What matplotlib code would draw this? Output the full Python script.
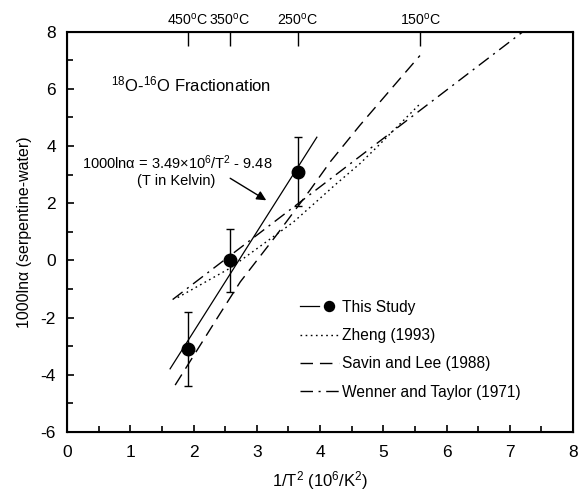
import matplotlib
matplotlib.use("Agg")
import matplotlib.pyplot as plt
from matplotlib.legend_handler import HandlerTuple
import numpy as np

plt.rcParams['font.family'] = ['Liberation Sans', 'DejaVu Sans']
plt.rcParams['mathtext.fontset'] = 'custom'
plt.rcParams['mathtext.rm'] = 'Liberation Sans'
plt.rcParams['mathtext.it'] = 'Liberation Sans:italic'
plt.rcParams['axes.unicode_minus'] = False

# this study: measured points (1/T^2, 1000ln alpha) and errors
study_x = [1.91, 2.58, 3.65]
study_y = [-3.1, 0.0, 3.1]
study_err = [1.3, 1.1, 1.2]

# fit line end points
fit_x = [1.63, 3.95]
fit_slope, fit_icpt = 3.49, -9.48

# curves
zheng_x = [1.75, 2.58, 3.58, 4.26, 4.63, 4.90, 5.58]
zheng_y = [-1.30, -0.27, 1.34, 2.68, 3.38, 3.96, 5.47]

savin_x = [1.71, 2.42, 2.74, 3.29, 3.84, 4.16, 4.63, 5.24, 5.58]
savin_y = [-4.36, -1.86, -0.75, 0.82, 2.45, 3.44, 4.72, 6.29, 7.16]

wenner_x = [1.67, 7.20]
wenner_y = [-1.37, 7.98]

top_temps = [450, 350, 250, 150]

fig = plt.figure(figsize=(5.79, 4.94), dpi=100)
ax = fig.add_axes([0.1157, 0.1255, 0.874, 0.8107])

fx = np.array(fit_x)
fit_line, = ax.plot(fx, fit_slope*fx + fit_icpt, color='black', lw=0.9)
ax.errorbar(study_x, study_y, yerr=study_err, fmt='none', ecolor='black',
            elinewidth=1.0, capsize=3, capthick=1.0)
pts, = ax.plot(study_x, study_y, 'o', color='black', ms=9)

zl, = ax.plot(zheng_x, zheng_y, color='black', lw=1.0, ls=(0, (1.2, 2.5)))
sl, = ax.plot(savin_x, savin_y, color='black', lw=1.0, ls=(0, (9, 5)))
wl, = ax.plot(wenner_x, wenner_y, color='black', lw=1.0, ls=(0, (9, 4, 1.5, 4)))

ax.set_xlim(0, 8)
ax.set_ylim(-6, 8)
ax.set_xticks(range(0, 9))
ax.set_xticks(np.arange(0.5, 8, 1), minor=True)
ax.set_yticks(range(-6, 9, 2))
ax.set_yticks(range(-5, 8, 2), minor=True)
ax.tick_params(which='both', direction='in', labelsize=12.5, width=1.2)
ax.tick_params(which='major', length=5)
ax.tick_params(which='minor', length=4)
ax.tick_params(axis='x', pad=9)
ax.tick_params(axis='y', pad=8)
for s in ax.spines.values():
    s.set_linewidth(1.5)

ax.set_xlabel(r'1/T$^2$ (10$^6$/K$^2$)', fontsize=12, labelpad=7)
ax.set_ylabel('1000lnα (serpentine-water)', fontsize=11.5, labelpad=6)

ax2 = ax.twiny()
ax2.set_xlim(0, 8)
ax2.set_xticks([1e6/(t + 273.15)**2 for t in top_temps])
ax2.set_xticklabels([r'%d$^{\mathrm{o}}$C' % t for t in top_temps])
ax2.tick_params(direction='in', length=10, width=1.0, labelsize=10.2, pad=3)

ax.text(0.70, 6.15, r'$^{18}$O-$^{16}$O Fractionation', fontsize=12, va='center')
ax.text(1.75, 3.43, r'1000lnα = 3.49×10$^6$/T$^2$ - 9.48', fontsize=10.5,
        ha='center', va='center')
ax.text(1.72, 2.76, '(T in Kelvin)', fontsize=10.5, ha='center', va='center')
ax.annotate('', xy=(3.15, 2.1), xytext=(2.58, 2.87),
            arrowprops=dict(arrowstyle='-|>', color='black', lw=1.0,
                            mutation_scale=14, shrinkA=0, shrinkB=0))

ax.legend([(fit_line, pts), zl, sl, wl],
          ['This Study', 'Zheng (1993)', 'Savin and Lee (1988)', 'Wenner and Taylor (1971)'],
          handler_map={tuple: HandlerTuple(ndivide=None)},
          loc='upper left', bbox_to_anchor=(0.46, 0.33), frameon=False,
          fontsize=11.2, handlelength=2.5, handletextpad=0.2, labelspacing=0.85,
          borderpad=0, borderaxespad=0, numpoints=1, markerscale=0.8)

fig.savefig('out.png', dpi=100)
